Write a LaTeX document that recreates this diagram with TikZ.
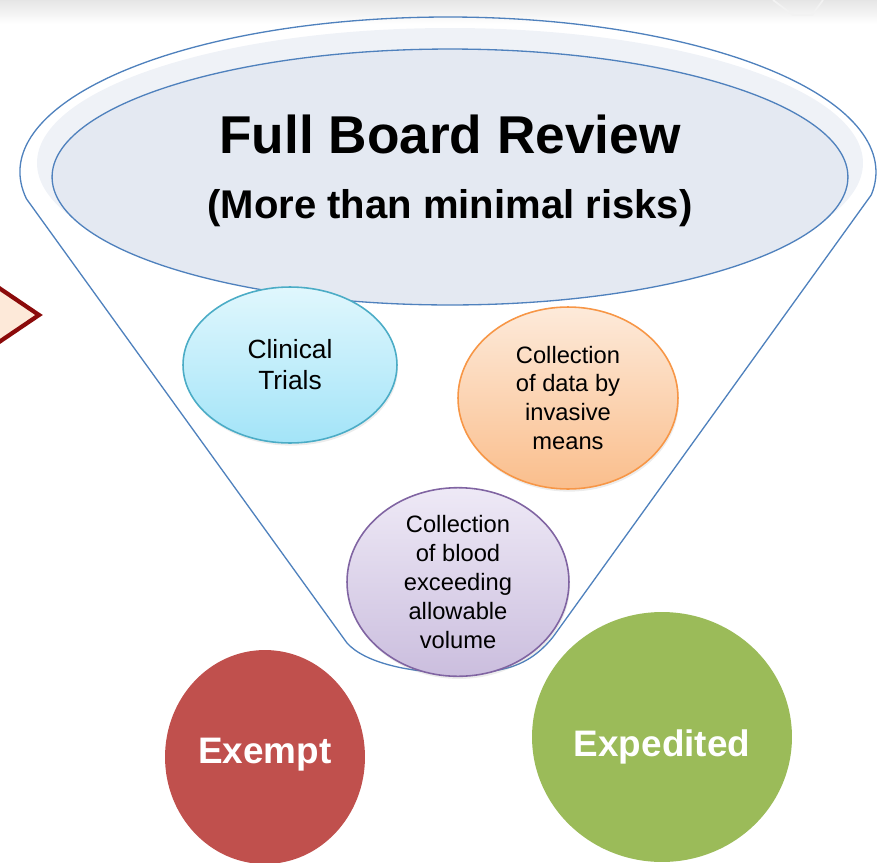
\documentclass[tikz,border=0pt]{standalone}
\usepackage{fontspec}
\setmainfont{Liberation Sans}
\usepackage{tikz}
\usetikzlibrary{shapes.geometric, shadows}

\definecolor{funnelblue}{RGB}{79,129,189}
\definecolor{topfill}{RGB}{228,233,242}
\definecolor{halofill}{RGB}{239,242,247}
\definecolor{cyantop}{RGB}{224,247,253}
\definecolor{cyanbot}{RGB}{163,228,248}
\definecolor{cyanline}{RGB}{75,172,198}
\definecolor{orangetop}{RGB}{253,234,218}
\definecolor{orangebot}{RGB}{250,190,140}
\definecolor{orangeline}{RGB}{247,150,70}
\definecolor{purpletop}{RGB}{238,233,246}
\definecolor{purplebot}{RGB}{203,190,222}
\definecolor{purpleline}{RGB}{128,100,162}
\definecolor{exemptred}{RGB}{192,80,77}
\definecolor{expgreen}{RGB}{155,187,89}
\definecolor{chevronred}{RGB}{139,10,10}
\definecolor{chevronfill}{RGB}{253,233,217}

\begin{document}
\begin{tikzpicture}[
  x=0.02cm, y=0.02cm,
  bubble/.style={ellipse, draw, line width=0.9pt, align=center, inner sep=0pt,
    font=\fontsize{13.5}{16.5}\selectfont,
    drop shadow={opacity=0.15, shadow xshift=0.6pt, shadow yshift=-1.5pt}},
  category/.style={ellipse, align=center, inner sep=0pt, text=white,
    font=\fontsize{21}{25}\selectfont\bfseries},
  funnel/.style={draw=funnelblue, line width=0.75pt}
]
\useasboundingbox (0,0) rectangle (877,-863);

% Top band of the slide
\shade[top color=black!10, bottom color=white] (0,0) rectangle (877,-24);
\draw[black!5, line width=1pt] (773,0) -- (793,-15) -- (812,-15) -- (823,0);

% Funnel outline
\draw[funnel] (448,-172) ++(190:428 and 155)
  arc[start angle=190, end angle=-8.5, x radius=428, y radius=155]
  -- (553,-637) .. controls (528,-668) and (500,-673) .. (458,-673)
  .. controls (410,-673) and (365,-663) .. (347,-643) -- cycle;

% Rim of the funnel
\fill[halofill] (450,-163) ellipse[x radius=413, y radius=135];
\node[ellipse, draw=funnelblue, fill=topfill, line width=0.75pt,
  minimum width=15.92cm, minimum height=5.12cm] (rim) at (450,-177) {};
\node[font=\fontsize{30.3}{36}\selectfont\bfseries] (title) at (450,-134) {Full Board Review};
\node[font=\fontsize{22.8}{27}\selectfont\bfseries] (subtitle) at (450,-208) {(More than minimal risks)};

% Arrow tip at the left edge
\filldraw[fill=chevronfill, draw=chevronred, line width=2.4pt]
  (-60,-248) -- (39,-315) -- (-60,-382) -- cycle;

% Review types inside the funnel
\node[bubble, draw=cyanline, top color=cyantop, bottom color=cyanbot,
  minimum width=4.28cm, minimum height=3.12cm,
  font=\fontsize{15}{17.6}\selectfont] (trials) at (290,-365) {Clinical\\Trials};
\node[bubble, draw=orangeline, top color=orangetop, bottom color=orangebot,
  minimum width=4.4cm, minimum height=3.64cm] (invasive) at (568,-398)
  {Collection\\of data by\\invasive\\means};
\node[bubble, draw=purpleline, top color=purpletop, bottom color=purplebot,
  minimum width=4.44cm, minimum height=3.5cm] (blood) at (458,-582)
  {Collection\\of blood\\exceeding\\allowable\\volume};

% Other review categories
\node[category, fill=exemptred, minimum width=4.0cm, minimum height=4.28cm]
  (exempt) at (265,-757) {};
\node[category] (exemptlabel) at (265,-755) {Exempt};
\node[category, fill=expgreen, minimum width=5.2cm, minimum height=5.0cm]
  (expedited) at (662,-737) {};
\node[category] (expeditedlabel) at (662,-747) {Expedited};

\end{tikzpicture}
\end{document}
